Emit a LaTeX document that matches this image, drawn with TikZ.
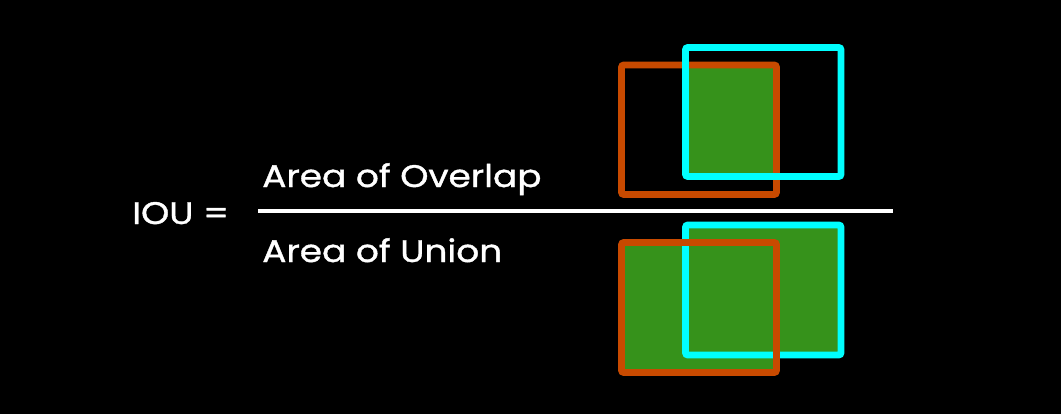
\documentclass[tikz,border=0pt]{standalone}
\usepackage{fontspec}
\setmainfont{Poppins}[FakeStretch=1.15, FakeBold=1.2]
\usetikzlibrary{positioning}
\definecolor{boxorange}{HTML}{C84A00}
\definecolor{boxcyan}{HTML}{00FFFF}
\definecolor{boxgreen}{HTML}{36921B}

\begin{document}
\begin{tikzpicture}[x=0.75pt, y=-0.75pt,
    txt/.style={text=white, inner sep=0pt, font=\fontsize{23.4}{27}\selectfont},
    predbox/.style={line width=4.9pt, draw=boxorange, rounded corners=1.5pt},
    truthbox/.style={line width=4.9pt, draw=boxcyan, rounded corners=1.5pt}]
  \fill[black] (0,0) rectangle (1061,414);
  % formula
  \node[txt, anchor=base west] (iou) at (132,224) {IOU =};
  \node[txt, anchor=base west] (overlap) at (262,187) {Area of Overlap};
  \node[txt, anchor=base west] (union) at (262,262) {Area of Union};
  \coordinate (barl) at (258,211);
  \coordinate (barr) at (893,211);
  \draw[line width=3pt, white] (barl) -- (barr);
  % overlap
  \fill[boxgreen] (685.5,65) rectangle (776.5,176.5);
  \draw[predbox] (621.5,65) rectangle (776.5,194.5);
  \draw[truthbox] (685.5,47.5) rectangle (841,176.5);
  % union
  \fill[boxgreen] (621.5,242.5) -- (685.5,242.5) -- (685.5,225) -- (841,225)
    -- (841,355) -- (776.5,355) -- (776.5,372.5) -- (621.5,372.5) -- cycle;
  \draw[truthbox] (685.5,225) rectangle (841,355);
  \draw[predbox] (621.5,242.5) rectangle (776.5,372.5);
\end{tikzpicture}
\end{document}
